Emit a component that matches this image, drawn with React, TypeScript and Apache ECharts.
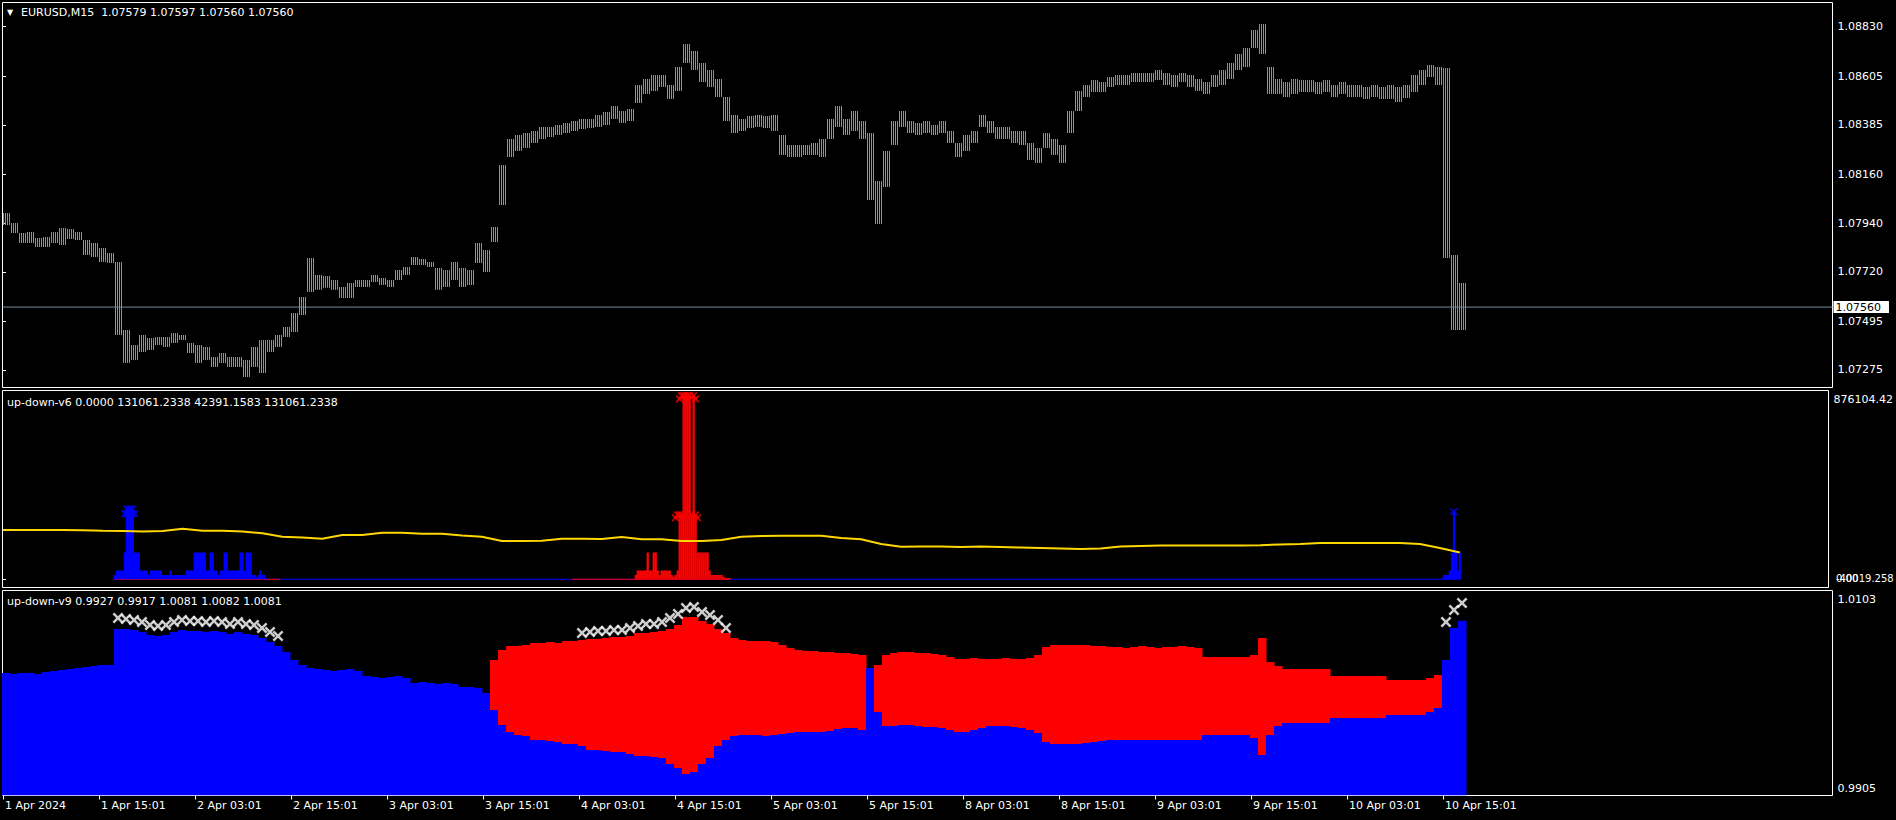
import React, { useEffect, useRef } from "react";
import * as echarts from "echarts";

// ---------- labels ----------
const timeLabels = [
  "1 Apr 2024", "1 Apr 15:01", "2 Apr 03:01", "2 Apr 15:01", "3 Apr 03:01", "3 Apr 15:01",
  "4 Apr 03:01", "4 Apr 15:01", "5 Apr 03:01", "5 Apr 15:01", "8 Apr 03:01", "8 Apr 15:01",
  "9 Apr 03:01", "9 Apr 15:01", "10 Apr 03:01", "10 Apr 15:01",
];
const priceTicks = [1.07275, 1.07495, 1.0772, 1.0794, 1.0816, 1.08385, 1.08605, 1.0883];
const lastPrice = 1.0756;
const v9Ticks = [0.9905, 1.0103];
const v6TopLabel = 876104.42;

// ---------- price (EURUSD M15), one sample = 4 bars ----------
const priceHigh = [
  1.07986, 1.07941, 1.07895, 1.079, 1.07873, 1.07877, 1.079, 1.07918, 1.07914, 1.079,
  1.07864, 1.0785, 1.07828, 1.07805, 1.07764, 1.07456, 1.07388, 1.07433, 1.0742, 1.07424,
  1.07424, 1.07442, 1.07433, 1.07397, 1.07388, 1.07379, 1.07334, 1.07352, 1.07334, 1.07334,
  1.0732, 1.07379, 1.07411, 1.07411, 1.07433, 1.0747, 1.07533, 1.07606, 1.07782, 1.07705,
  1.07701, 1.07683, 1.07651, 1.07669, 1.07683, 1.07683, 1.07705, 1.07692, 1.07683, 1.07728,
  1.07742, 1.07787, 1.07778, 1.07764, 1.07737, 1.07728, 1.07764, 1.07737, 1.07728, 1.0785,
  1.07819, 1.07923, 1.08204, 1.08321, 1.08339, 1.08349, 1.08358, 1.08376, 1.08376, 1.08385,
  1.08394, 1.08403, 1.08412, 1.08412, 1.0843, 1.08444, 1.08471, 1.08448, 1.08457, 1.08566,
  1.08593, 1.08611, 1.08611, 1.08566, 1.08647, 1.08752, 1.0872, 1.08666, 1.08634, 1.08593,
  1.08512, 1.0843, 1.08412, 1.08425, 1.0843, 1.08425, 1.0843, 1.08339, 1.08294, 1.08294,
  1.08294, 1.08303, 1.08321, 1.08412, 1.08471, 1.08412, 1.08448, 1.08403, 1.08349, 1.08131,
  1.08267, 1.08403, 1.08448, 1.08403, 1.08394, 1.08403, 1.08385, 1.08403, 1.08358, 1.08303,
  1.08339, 1.08358, 1.0843, 1.08403, 1.08376, 1.08376, 1.08358, 1.08358, 1.08303, 1.08281,
  1.08349, 1.08321, 1.08294, 1.08448, 1.08539, 1.08566, 1.08589, 1.0858, 1.08602, 1.08611,
  1.08611, 1.0862, 1.0862, 1.0862, 1.08634, 1.0862, 1.08611, 1.0862, 1.08611, 1.08593,
  1.0858, 1.08611, 1.08634, 1.08666, 1.08706, 1.08734, 1.08815, 1.08842, 1.08647, 1.08593,
  1.0858, 1.08593, 1.08589, 1.08589, 1.0858, 1.08589, 1.08566, 1.0858, 1.08566, 1.08566,
  1.08557, 1.08566, 1.08557, 1.08566, 1.08557, 1.08566, 1.08611, 1.08634, 1.08657, 1.08647,
  1.08643, 1.07796, 1.07669,
];
const priceLow = [
  1.07932, 1.07895, 1.0785, 1.0785, 1.07832, 1.07832, 1.0785, 1.07841, 1.07868, 1.07864,
  1.07796, 1.07787, 1.07764, 1.0776, 1.07433, 1.07307, 1.0732, 1.07356, 1.07365, 1.07388,
  1.07379, 1.07397, 1.07411, 1.07352, 1.07307, 1.0732, 1.07289, 1.07307, 1.07289, 1.07289,
  1.07243, 1.07289, 1.07261, 1.07356, 1.07379, 1.07424, 1.07447, 1.07524, 1.07628, 1.07638,
  1.07647, 1.07638, 1.07601, 1.07601, 1.07651, 1.07651, 1.07674, 1.0766, 1.07651, 1.07683,
  1.07705, 1.07751, 1.07751, 1.07742, 1.07638, 1.07651, 1.07683, 1.07651, 1.0766, 1.0776,
  1.07719, 1.07855, 1.08022, 1.0824, 1.08267, 1.08281, 1.08303, 1.08321, 1.0833, 1.08339,
  1.08349, 1.08358, 1.08367, 1.08371, 1.08376, 1.08385, 1.08412, 1.08394, 1.08403, 1.08484,
  1.08525, 1.08539, 1.08557, 1.08503, 1.08539, 1.08666, 1.08634, 1.0858, 1.08557, 1.08512,
  1.08403, 1.08349, 1.08358, 1.08371, 1.08376, 1.08371, 1.08358, 1.08249, 1.0824, 1.0824,
  1.08249, 1.08249, 1.0824, 1.08321, 1.08376, 1.08339, 1.08358, 1.08321, 1.08045, 1.07936,
  1.08104, 1.08294, 1.08376, 1.08349, 1.08339, 1.08349, 1.08339, 1.08349, 1.08303, 1.0824,
  1.08267, 1.08303, 1.08376, 1.08349, 1.08321, 1.08321, 1.08303, 1.08294, 1.08226, 1.08213,
  1.08281, 1.08249, 1.08213, 1.08349, 1.08448, 1.08512, 1.08534, 1.08534, 1.08557, 1.08566,
  1.08566, 1.0858, 1.0858, 1.0858, 1.08589, 1.08566, 1.08557, 1.0858, 1.08557, 1.08539,
  1.08525, 1.08557, 1.08566, 1.08593, 1.08634, 1.08647, 1.08734, 1.08706, 1.08525, 1.08525,
  1.08512, 1.08525, 1.08534, 1.08534, 1.08525, 1.08534, 1.08512, 1.08525, 1.08512, 1.08512,
  1.08503, 1.08512, 1.08503, 1.08503, 1.08489, 1.08507, 1.08534, 1.08566, 1.08602, 1.08566,
  1.07782, 1.07456, 1.07456,
];

// ---------- up-down-v6 (per bar) ----------
const v6BlueStart = 56;
const v6Blue = [
  21000, 42391, 42391, 42391, 42391, 131061, 343000, 343000, 343000, 343000,
  131061, 131061, 131061, 42391, 42391, 42391, 42391, 21000, 42391, 42391,
  42391, 42391, 42391, 42391, 21000, 21000, 21000, 21000, 42391, 21000,
  21000, 21000, 21000, 21000, 21000, 21000, 42391, 42391, 42391, 42391,
  131061, 131061, 131061, 131061, 131061, 131061, 42391, 42391, 131061, 131061,
  42391, 42391, 21000, 42391, 42391, 131061, 131061, 42391, 42391, 42391,
  42391, 42391, 42391, 131061, 131061, 42391, 131061, 131061, 131061, 21000,
  21000, 12700, 21000, 42391, 21000, 21000, 6000,
];
const v6BlueEndStart = 721;
const v6BlueEnd = [6000, 21000, 21000, 21000, 42391, 131061, 330000, 131061, 42391, 131061];
const v6RedStart = 317;
const v6Red = [
  21000, 42391, 42391, 42391, 42391, 42391, 131061, 42391, 42391, 131061,
  131061, 42391, 21000, 42391, 42391, 42391, 42391, 42391, 21000, 12700,
  21000, 42391, 313600, 313600, 895600, 895600, 895600, 895600, 313600, 895600,
  313600, 131061, 131061, 131061, 131061, 131061, 131061, 42391, 21000, 21000,
  21000, 21000, 21000, 21000, 12700, 6000, 6000, 6000,
];
const v6BlueMarks = [
  [61, 320000], [62, 343000], [63, 343000], [64, 343000], [65, 343000], [66, 320000],
  [62, 318000], [65, 318000], [727, 330000],
];
const v6RedMarks = [
  [340, 895600], [341, 895600], [342, 895600], [343, 895600], [344, 895600], [346, 895600],
  [339, 880000], [347, 880000], [338, 313600], [339, 313600], [340, 313600], [345, 313600],
  [347, 313600], [348, 300000], [337, 300000],
];
// signal line, one sample = 10 bars
const v6Signal = [
  240500, 240500, 240500, 240500, 239000, 237100, 235600, 233200, 235600, 246800,
  237100, 237100, 233200, 224400, 207800, 203900, 198000, 216100, 216100, 227300,
  227300, 222400, 222400, 213700, 207800, 186800, 186800, 188300, 198000, 198000,
  196600, 206300, 195100, 195100, 186800, 186800, 191700, 207800, 211200, 212700,
  212700, 212700, 201500, 195100, 172200, 159000, 160000, 159500, 157600, 159500,
  157600, 155100, 152700, 150200, 147800, 150200, 159500, 162400, 165400, 165400,
  165400, 165400, 165400, 166300, 169800, 172200, 177100, 177100, 177100, 177100,
  177100, 172200, 152700, 131061,
];
const v6BlueBaseBars = [55, 730];
const v6RedBaseBars = [[56, 139], [285, 364]];

// ---------- up-down-v9, one sample = 4 bars ----------
const v9Blue = [
  1.0026, 1.0025, 1.0026, 1.0026, 1.0025, 1.00271, 1.00281, 1.00292, 1.00302, 1.00313,
  1.00323, 1.00334, 1.00344, 1.00344, 1.00722, 1.00722, 1.00712, 1.00691, 1.00659, 1.00649,
  1.00659, 1.00691, 1.00712, 1.00701, 1.00701, 1.00691, 1.00701, 1.00691, 1.0067, 1.00691,
  1.0067, 1.00659, 1.00628, 1.00586, 1.00544, 1.00481, 1.00397, 1.00344, 1.00313, 1.00302,
  1.00292, 1.00281, 1.00292, 1.00302, 1.00281, 1.00229, 1.00218, 1.00208, 1.00218, 1.00229,
  1.00208, 1.00155, 1.00166, 1.00155, 1.00145, 1.00155, 1.00145, 1.00113, 1.00113, 1.00103,
  1.0005, 0.99872, 0.99714, 0.99641, 0.99609, 0.99599, 0.99557, 0.99557, 0.99546, 0.99536,
  0.99515, 0.99515, 0.99494, 0.99452, 0.99452, 0.99441, 0.99431, 0.99431, 0.9941, 0.99389,
  0.99389, 0.99378, 0.99368, 0.99305, 0.99263, 0.992, 0.99221, 0.99305, 0.99368, 0.99494,
  0.99557, 0.99599, 0.99609, 0.99609, 0.99609, 0.99599, 0.99609, 0.9962, 0.9963, 0.99641,
  0.99641, 0.99641, 0.99641, 0.99651, 0.99672, 0.99683, 0.99683, 0.99662, 1.00313, 0.99851,
  0.99704, 0.99704, 0.99714, 0.99714, 0.99704, 0.99693, 0.99693, 0.99683, 0.99662, 0.99641,
  0.99641, 0.99662, 0.99683, 0.99704, 0.99704, 0.99704, 0.99693, 0.99683, 0.99662, 0.9963,
  0.99536, 0.99515, 0.99515, 0.99515, 0.99515, 0.99525, 0.99536, 0.99546, 0.99557, 0.99557,
  0.99557, 0.99557, 0.99557, 0.99557, 0.99557, 0.99557, 0.99557, 0.99557, 0.99557, 0.99557,
  0.99609, 0.99609, 0.99609, 0.99609, 0.99609, 0.99609, 0.99578, 0.99399, 0.99609, 0.99704,
  0.99735, 0.99735, 0.99735, 0.99735, 0.99735, 0.99735, 0.99788, 0.99788, 0.99788, 0.99788,
  0.99788, 0.99788, 0.99788, 0.99819, 0.99819, 0.99819, 0.99819, 0.99819, 0.99851, 0.99893,
  1.00397, 1.00733, 1.0081,
];
const v9RedStart = 61;
const v9Red = [
  1.00397, 1.00502, 1.00544, 1.00544, 1.00554, 1.00575, 1.00575, 1.00586, 1.00575,
  1.00596, 1.00596, 1.00607, 1.00617, 1.00617, 1.00628, 1.00638, 1.00638, 1.00649, 1.0068,
  1.0068, 1.00691, 1.00701, 1.00722, 1.00764, 1.00848, 1.00848, 1.00806, 1.00775, 1.00722,
  1.0068, 1.00628, 1.00607, 1.00596, 1.00596, 1.00596, 1.00586, 1.00554, 1.00523, 1.00502,
  1.00491, 1.00491, 1.00481, 1.00481, 1.0047, 1.0047, 1.0046, 1.00449, null, 1.00344,
  1.00449, 1.0047, 1.00481, 1.00481, 1.0047, 1.0047, 1.0046, 1.00449, 1.00428, 1.00407,
  1.00407, 1.00418, 1.00407, 1.00407, 1.00407, 1.00418, 1.00407, 1.00407, 1.00418, 1.00449,
  1.00533, 1.00554, 1.00554, 1.00554, 1.00554, 1.00554, 1.00544, 1.00544, 1.00533, 1.00533,
  1.00523, 1.00533, 1.00544, 1.00533, 1.00523, 1.00533, 1.00533, 1.00544, 1.00533, 1.00523,
  1.00428, 1.00428, 1.00428, 1.00428, 1.00428, 1.00428, 1.00449, 1.00628, 1.00376, 1.00334,
  1.00302, 1.00302, 1.00302, 1.00302, 1.00302, 1.00302, 1.00229, 1.00229, 1.00229, 1.00229,
  1.00229, 1.00229, 1.00229, 1.00187, 1.00187, 1.00187, 1.00187, 1.00187, 1.00208, 1.00239,
];
const v9MarksA_start = 14;
const v9MarksA = [
  1.00838, 1.00827, 1.00817, 1.00796, 1.00764, 1.00754, 1.00764, 1.00796, 1.00817, 1.00806,
  1.00806, 1.00796, 1.00806, 1.00796, 1.00775, 1.00796, 1.00775, 1.00764, 1.00733, 1.00691,
  1.00649,
];
const v9MarksB_start = 72;
const v9MarksB = [
  1.0068, 1.00691, 1.00701, 1.00701, 1.00712, 1.00712, 1.00733, 1.00754, 1.00775, 1.00775,
  1.00796, 1.00838, 1.0088, 1.00943, 1.00953, 1.00901, 1.00869, 1.00817, 1.00733,
];
const v9MarksC_start = 180;
const v9MarksC = [1.00796, 1.00922, 1.00995];

// ---------- styling ----------
const FONT = "DejaVu Sans";
const GREEN = "#22e21a";
const BARS_PER_SAMPLE = 4;
const X_MIN = -0.25;
const X_MAX = 914.75;
const Y0 = [1.071957, 1.089396];
const Y1 = [-40019.258, 920982];
const Y2 = [0.989744, 1.011266];
const XMARK = "path://M0,1.6L1.6,0L5,3.4L8.4,0L10,1.6L6.6,5L10,8.4L8.4,10L5,6.6L1.6,10L0,8.4L3.4,5Z";

const sampleX = (k: number) => BARS_PER_SAMPLE * k + 1.5;

function barPattern(): any {
  // one bar drawn on every second pixel column, like a terminal bar chart
  const c = document.createElement("canvas");
  c.width = 2;
  c.height = 1;
  const ctx = c.getContext("2d");
  if (ctx) {
    ctx.fillStyle = GREEN;
    ctx.fillRect(1, 0, 1, 1);
  }
  return { image: c, repeat: "repeat", imageWidth: 2, imageHeight: 1 };
}

function buildOption() {
  const tickIdx = timeLabels.map((_, i) => i * 48);
  const xBase = {
    type: "value",
    min: X_MIN,
    max: X_MAX,
    axisLine: { show: false },
    axisTick: { show: false },
    axisLabel: { show: false },
    splitLine: { show: false },
  };
  const pattern = barPattern();
  const priceData = priceHigh.map((h, k) => [sampleX(k), priceLow[k], h]);
  const blueHist = v6Blue.map((v, j) => [v6BlueStart + j, v]).concat(
    v6BlueEnd.map((v, j) => [v6BlueEndStart + j, v])
  );
  const redHist = v6Red.map((v, j) => [v6RedStart + j, v]);
  const signal = v6Signal.map((v, j) => [10 * j, v]);
  const v9Data = v9Blue.map((b, k) => {
    const j = k - v9RedStart;
    const r = j >= 0 && j < v9Red.length ? v9Red[j] : null;
    return [sampleX(k), b, r];
  });
  const whiteMarks = [
    ...v9MarksA.map((v, j) => [sampleX(v9MarksA_start + j), v]),
    ...v9MarksB.map((v, j) => [sampleX(v9MarksB_start + j), v]),
    ...v9MarksC.map((v, j) => [sampleX(v9MarksC_start + j), v]),
  ];

  const histRender = (fill: string) => (params: any, api: any) => {
    const i = api.value(0);
    const v = api.value(1);
    const top = api.coord([i, v]);
    const base = api.coord([i, 0]);
    const w = api.size([1, 0])[0];
    return {
      type: "rect",
      shape: { x: top[0] - w / 2, y: top[1], width: w + 0.3, height: Math.max(1, base[1] - top[1]) },
      style: { fill },
    };
  };

  const lineBase = (bars: number[], color: string, z: number) => ({
    type: "line",
    xAxisIndex: 1,
    yAxisIndex: 1,
    data: [[bars[0], 0], [bars[1], 0]],
    symbol: "none",
    silent: true,
    z,
    lineStyle: { color, width: 1 },
  });

  return {
    animation: false,
    backgroundColor: "#000",
    textStyle: { fontFamily: FONT },
    grid: [
      { left: 2.5, top: 2.5, width: 1830, height: 385, show: true, borderColor: "#fff", borderWidth: 1, backgroundColor: "transparent" },
      { left: 2.5, top: 390.5, width: 1830, height: 197, show: true, borderColor: "#fff", borderWidth: 1, backgroundColor: "transparent" },
      { left: 2.5, top: 590.5, width: 1830, height: 205, show: true, borderColor: "#fff", borderWidth: 1, backgroundColor: "transparent" },
    ],
    xAxis: [
      { ...xBase, gridIndex: 0 },
      { ...xBase, gridIndex: 1 },
      {
        ...xBase,
        gridIndex: 2,
        axisTick: { show: true, length: 4, lineStyle: { color: "#fff" }, customValues: tickIdx },
        axisLabel: {
          show: true,
          customValues: tickIdx,
          formatter: (v: number) => timeLabels[Math.round(v / 48)] ?? "",
          color: "#fff",
          fontSize: 11,
          fontFamily: FONT,
          align: "left",
          margin: 4,
          padding: [0, 0, 0, 2],
        },
      },
    ],
    yAxis: [
      {
        gridIndex: 0, type: "value", position: "right", min: Y0[0], max: Y0[1],
        axisLine: { show: false }, splitLine: { show: false },
        axisTick: { show: true, length: 3, lineStyle: { color: "#fff" }, customValues: priceTicks },
        axisLabel: { customValues: priceTicks, formatter: (v: number) => v.toFixed(5), color: "#fff", fontSize: 11, fontFamily: FONT, margin: 5 },
      },
      {
        gridIndex: 1, type: "value", position: "right", min: Y1[0], max: Y1[1],
        axisLine: { show: false }, splitLine: { show: false },
        axisTick: { show: true, length: 3, lineStyle: { color: "#fff" }, customValues: [0] },
        axisLabel: { customValues: [v6TopLabel], formatter: (v: number) => v.toFixed(2), color: "#fff", fontSize: 11, fontFamily: FONT, margin: 5 },
      },
      {
        gridIndex: 2, type: "value", position: "right", min: Y2[0], max: Y2[1],
        axisLine: { show: false }, splitLine: { show: false },
        axisTick: { show: false },
        axisLabel: { customValues: v9Ticks, formatter: (v: number) => v.toFixed(4), color: "#fff", fontSize: 11, fontFamily: FONT, margin: 5 },
      },
    ],
    series: [
      {
        type: "custom",
        name: "EURUSD",
        xAxisIndex: 0,
        yAxisIndex: 0,
        clip: true,
        silent: true,
        encode: { x: 0, y: [1, 2] },
        data: priceData,
        renderItem: (params: any, api: any) => {
          const x = api.value(0);
          const lo = api.coord([x, api.value(1)]);
          const hi = api.coord([x, api.value(2)]);
          const w = api.size([BARS_PER_SAMPLE, 0])[0];
          return {
            type: "rect",
            shape: { x: Math.round(hi[0] - w / 2), y: hi[1], width: w, height: Math.max(1, lo[1] - hi[1]) },
            style: { fill: pattern },
          };
        },
      },
      {
        type: "line",
        xAxisIndex: 0,
        yAxisIndex: 0,
        data: [[X_MIN, lastPrice], [X_MAX, lastPrice]],
        symbol: "none",
        silent: true,
        z: 3,
        lineStyle: { color: "#778899", width: 1 },
        endLabel: {
          show: true,
          formatter: () => lastPrice.toFixed(5),
          color: "#000",
          backgroundColor: "#fff",
          fontSize: 11,
          fontFamily: FONT,
          lineHeight: 12,
          padding: [0, 8, 0, 2],
          distance: 1,
        },
      },
      lineBase(v6BlueBaseBars, "#0000ff", 2),
      ...v6RedBaseBars.map((b) => lineBase(b, "#ff0000", 2)),
      {
        type: "custom", xAxisIndex: 1, yAxisIndex: 1, clip: true, silent: true, z: 3,
        encode: { x: 0, y: 1 }, data: blueHist, renderItem: histRender("#0000ff"),
      },
      {
        type: "custom", xAxisIndex: 1, yAxisIndex: 1, clip: true, silent: true, z: 3,
        encode: { x: 0, y: 1 }, data: redHist, renderItem: histRender("#ff0000"),
      },
      {
        type: "line", xAxisIndex: 1, yAxisIndex: 1, data: signal, symbol: "none", silent: true, z: 4,
        lineStyle: { color: "#ffd700", width: 2 },
      },
      {
        type: "scatter", xAxisIndex: 1, yAxisIndex: 1, data: v6BlueMarks, symbol: XMARK, symbolSize: 8,
        silent: true, z: 5, itemStyle: { color: "#0000ff" },
      },
      {
        type: "scatter", xAxisIndex: 1, yAxisIndex: 1, data: v6RedMarks, symbol: XMARK, symbolSize: 8,
        silent: true, z: 5, itemStyle: { color: "#ff0000" },
      },
      {
        type: "custom",
        xAxisIndex: 2,
        yAxisIndex: 2,
        clip: true,
        silent: true,
        encode: { x: 0, y: [1, 2] },
        data: v9Data,
        renderItem: (params: any, api: any) => {
          const x = api.value(0);
          const b = api.value(1);
          const r = api.value(2);
          const w = api.size([BARS_PER_SAMPLE, 0])[0];
          const pb = api.coord([x, b]);
          const p0 = api.coord([x, Y2[0]]);
          const children: any[] = [
            { type: "rect", shape: { x: pb[0] - w / 2, y: pb[1], width: w + 0.5, height: p0[1] - pb[1] }, style: { fill: "#0000ff" } },
          ];
          if (r != null && !isNaN(r)) {
            const pr = api.coord([x, r]);
            children.push({
              type: "rect",
              shape: { x: pr[0] - w / 2, y: pr[1], width: w + 0.5, height: Math.max(1, pb[1] - pr[1]) },
              style: { fill: "#ff0000" },
            });
          }
          return { type: "group", children };
        },
      },
      {
        type: "scatter", xAxisIndex: 2, yAxisIndex: 2, data: whiteMarks, symbol: XMARK, symbolSize: 11,
        silent: true, z: 5, itemStyle: { color: "#ffffff" },
      },
    ],
    graphic: [
      { type: "text", x: 7, y: 12, style: { text: "\u25BC", fill: "#fff", font: `8px "${FONT}"`, verticalAlign: "middle" } },
      { type: "text", x: 21, y: 12, style: { text: "EURUSD,M15  1.07579 1.07597 1.07560 1.07560", fill: "#fff", font: `11px "${FONT}"`, verticalAlign: "middle" } },
      { type: "text", x: 7, y: 402, style: { text: "up-down-v6 0.0000 131061.2338 42391.1583 131061.2338", fill: "#fff", font: `11px "${FONT}"`, verticalAlign: "middle" } },
      { type: "text", x: 7, y: 601, style: { text: "up-down-v9 0.9927 0.9917 1.0081 1.0082 1.0081", fill: "#fff", font: `11px "${FONT}"`, verticalAlign: "middle" } },
      { type: "text", x: 1836, y: 578, style: { text: "-40019.258", fill: "#fff", font: `10px "${FONT}"`, verticalAlign: "middle" } },
      { type: "text", x: 1836, y: 578, style: { text: "0.00", fill: "#fff", font: `10px "${FONT}"`, verticalAlign: "middle" } },
    ],
  };
}

export default function App() {
  const ref = useRef<HTMLDivElement>(null);
  useEffect(() => {
    if (!ref.current) return;
    const chart = echarts.init(ref.current, null, { renderer: "svg" });
    chart.setOption(buildOption() as any);
    return () => chart.dispose();
  }, []);
  return (
    <div
      ref={ref}
      style={{ position: "fixed", left: 0, top: 0, width: 1896, height: 820, background: "#000" }}
    />
  );
}
